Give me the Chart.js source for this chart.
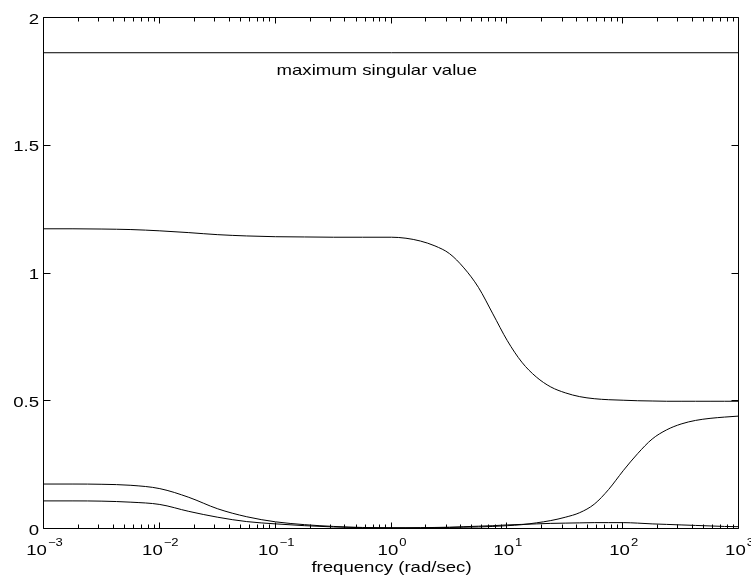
<!DOCTYPE html>
<html>
<head>
<meta charset="utf-8">
<script src="https://cdn.jsdelivr.net/npm/chart.js@4/dist/chart.umd.min.js"></script>
<style>
  html, body { margin: 0; padding: 0; background: #fff; }
  canvas { display: block; }
</style>
</head>
<body>
<canvas id="c" width="751" height="577"></canvas>
<script>
// frequency grid, as decade exponents (rad/sec = 10^exp)
const freqExp = [-3, -2.75, -2.5, -2.25, -2, -1.75, -1.5, -1.25, -1, -0.75, -0.5, -0.25,
                 0, 0.125, 0.25, 0.375, 0.5, 0.625, 0.75, 0.875, 1, 1.125, 1.25, 1.375,
                 1.5, 1.625, 1.75, 1.875, 2, 2.125, 2.25, 2.375, 2.5, 2.625, 2.75, 2.875, 3];
// singular value curves
const sigmaHigh = [1.175, 1.175, 1.174, 1.172, 1.167, 1.160, 1.152, 1.147, 1.144, 1.143, 1.142, 1.142,
                   1.142, 1.138, 1.127, 1.108, 1.078, 1.022, 0.946, 0.842, 0.737, 0.653, 0.595, 0.556,
                   0.533, 0.518, 0.510, 0.506, 0.504, 0.502, 0.501, 0.500, 0.500, 0.500, 0.500, 0.500, 0.500];
const sigmaRise = [0.176, 0.176, 0.175, 0.171, 0.158, 0.124, 0.079, 0.048, 0.028, 0.017, 0.010, 0.006,
                   0.005, 0.005, 0.005, 0.005, 0.006, 0.007, 0.008, 0.010, 0.013, 0.017, 0.024, 0.033,
                   0.046, 0.064, 0.097, 0.155, 0.228, 0.295, 0.352, 0.388, 0.411, 0.425, 0.433, 0.438, 0.442];
const sigmaBump = [0.110, 0.110, 0.109, 0.105, 0.096, 0.069, 0.046, 0.029, 0.020, 0.013, 0.008, 0.005,
                   0.004, 0.004, 0.005, 0.006, 0.007, 0.009, 0.011, 0.013, 0.016, 0.018, 0.020, 0.022,
                   0.023, 0.024, 0.025, 0.025, 0.025, 0.023, 0.020, 0.018, 0.016, 0.014, 0.012, 0.010, 0.009];
// maximum singular value bound
const maxSingular = 1.864;
const maxSingularFreq = [1e-3, 1e3];
// axis tick values and labels
const xDecades = [-3, -2, -1, 0, 1, 2, 3];
const yTicks = [0, 0.5, 1, 1.5, 2];
const yTickLabels = ['0', '0.5', '1', '1.5', '2'];
const xTitle = 'frequency (rad/sec)';
const annotText = 'maximum singular value';
const annotFreq = 0.746;
const annotValue = 1.777;

const toPts = (vals) => vals.map((v, i) => ({ x: Math.pow(10, freqExp[i]), y: v }));

const FONT = '"Liberation Sans", Arial, Helvetica, sans-serif';
const SX = 1.24;
const FS = 15;
const FS_EXP = 10.5;

function stretchedWidth(ctx, text, size) {
  ctx.font = size + 'px ' + FONT;
  return ctx.measureText(text).width * SX;
}
function drawStretched(ctx, text, x, y, size, align) {
  ctx.font = size + 'px ' + FONT;
  const w = ctx.measureText(text).width * SX;
  let sx = x;
  if (align === 'center') sx = x - w / 2;
  else if (align === 'right') sx = x - w;
  ctx.save();
  ctx.textAlign = 'left';
  ctx.textBaseline = 'alphabetic';
  ctx.translate(sx, y);
  ctx.scale(SX, 1);
  ctx.fillText(text, 0, 0);
  ctx.restore();
}

const framePlugin = {
  id: 'frame',
  afterDraw(chart) {
    const { ctx, chartArea, scales } = chart;
    const xs = scales.x, ys = scales.y;
    const L = Math.round(chartArea.left) - 0.5;
    const R = Math.round(chartArea.right) - 0.5;
    const T = Math.round(chartArea.top) - 0.5;
    const B = Math.round(chartArea.bottom) - 0.5;
    ctx.save();
    ctx.strokeStyle = '#000';
    ctx.fillStyle = '#000';
    ctx.lineWidth = 1;
    ctx.beginPath();
    ctx.rect(L, T, R - L, B - T);
    ctx.stroke();

    // x ticks (inward, bottom and top)
    ctx.beginPath();
    xDecades.forEach((d, i) => {
      const base = Math.pow(10, d);
      const px = Math.round(xs.getPixelForValue(base)) - 0.5;
      ctx.moveTo(px, B); ctx.lineTo(px, B - 6);
      ctx.moveTo(px, T); ctx.lineTo(px, T + 6);
      if (i < xDecades.length - 1) {
        for (let m = 2; m <= 9; m++) {
          const mx = Math.round(xs.getPixelForValue(m * base)) - 0.5;
          ctx.moveTo(mx, B); ctx.lineTo(mx, B - 4);
          ctx.moveTo(mx, T); ctx.lineTo(mx, T + 4);
        }
      }
    });
    // y ticks (inward, left and right)
    yTicks.forEach(v => {
      const py = Math.round(ys.getPixelForValue(v)) - 0.5;
      ctx.moveTo(L, py); ctx.lineTo(L + 7, py);
      ctx.moveTo(R, py); ctx.lineTo(R - 7, py);
    });
    ctx.stroke();

    // y tick labels
    yTicks.forEach((v, i) => {
      const py = ys.getPixelForValue(v);
      drawStretched(ctx, yTickLabels[i], chartArea.left - 5, py + 5.5, FS, 'right');
    });

    // x tick labels 10^d
    xDecades.forEach(d => {
      const px = xs.getPixelForValue(Math.pow(10, d));
      const expText = (d < 0 ? '\u2212' : '') + Math.abs(d);
      const wBase = stretchedWidth(ctx, '10', FS);
      const wExp = stretchedWidth(ctx, expText, FS_EXP);
      const start = px - (wBase + wExp) / 2;
      drawStretched(ctx, '10', start, chartArea.bottom + 25.5, FS, 'left');
      drawStretched(ctx, expText, start + wBase + 1, chartArea.bottom + 17, FS_EXP, 'left');
    });

    // x axis title
    drawStretched(ctx, xTitle, (chartArea.left + chartArea.right) / 2, chartArea.bottom + 43, FS, 'center');

    // annotation
    drawStretched(ctx, annotText, xs.getPixelForValue(annotFreq), ys.getPixelForValue(annotValue), FS, 'center');
    ctx.restore();
  }
};

const lineStyle = {
  borderColor: '#000',
  borderWidth: 1,
  pointRadius: 0,
  fill: false,
  cubicInterpolationMode: 'monotone'
};

new Chart(document.getElementById('c'), {
  type: 'line',
  data: {
    datasets: [
      Object.assign({ label: 'max', data: maxSingularFreq.map(f => ({ x: f, y: maxSingular })) }, lineStyle),
      Object.assign({ label: 'sigma1', data: toPts(sigmaHigh) }, lineStyle),
      Object.assign({ label: 'sigma2', data: toPts(sigmaRise) }, lineStyle),
      Object.assign({ label: 'sigma3', data: toPts(sigmaBump) }, lineStyle)
    ]
  },
  options: {
    responsive: false,
    devicePixelRatio: 1,
    animation: false,
    layout: { padding: { top: 18, right: 12, left: 0, bottom: 0 } },
    plugins: { legend: { display: false }, tooltip: { enabled: false } },
    scales: {
      x: {
        type: 'logarithmic',
        min: 0.001, max: 1000,
        ticks: { display: false },
        grid: { display: false },
        border: { display: false },
        afterFit: s => { s.height = 48; }
      },
      y: {
        type: 'linear',
        min: 0, max: 2,
        ticks: { display: false },
        grid: { display: false },
        border: { display: false },
        afterFit: s => { s.width = 44; }
      }
    }
  },
  plugins: [framePlugin]
});
</script>
</body>
</html>
